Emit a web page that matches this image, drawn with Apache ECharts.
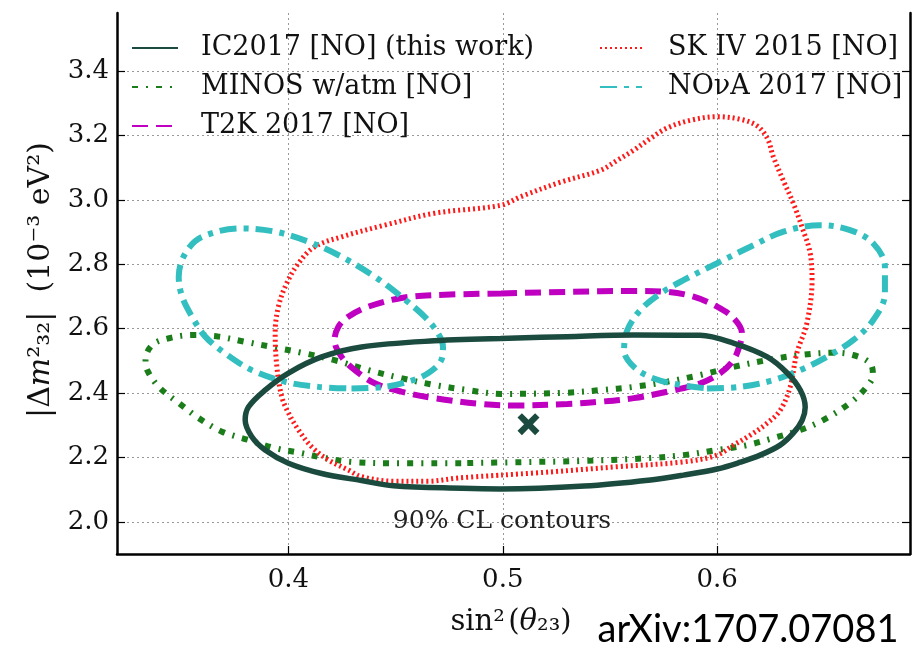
<!DOCTYPE html>
<html>
<head>
<meta charset="utf-8">
<script src="https://cdn.jsdelivr.net/npm/echarts@6/dist/echarts.min.js"></script>
<style>
  html, body { margin: 0; padding: 0; background: #fff; }
  #chart { width: 913px; height: 655px; }
</style>
</head>
<body>
<div id="chart"></div>
<script>
// ---- data (sin^2(theta23), |dm^2_32| in 1e-3 eV^2) ----
const xTicks = [0.4, 0.5, 0.6];
const yTicks = [2.0, 2.2, 2.4, 2.6, 2.8, 3.0, 3.2, 3.4];

const icContour = [
  [0.499,2.569],[0.530,2.575],[0.561,2.580],[0.592,2.579],[0.6076,2.555],[0.6234,2.512],
  [0.6327,2.462],[0.6388,2.409],[0.6411,2.356],[0.6397,2.316],[0.6356,2.276],[0.6294,2.238],
  [0.6201,2.207],[0.6108,2.185],[0.600,2.164],[0.5843,2.145],[0.569,2.130],[0.538,2.111],
  [0.499,2.102],[0.481,2.104],[0.449,2.112],[0.4341,2.128],[0.4155,2.150],[0.400,2.182],
  [0.3891,2.223],[0.3829,2.264],[0.3798,2.316],[0.3814,2.357],[0.3891,2.409],[0.400,2.462],
  [0.4155,2.512],[0.4341,2.543],[0.468,2.562],[0.499,2.569]
];

const minosContour = [
  [0.4806,2.182],[0.4494,2.182],[0.4294,2.186],[0.4169,2.198],[0.4062,2.213],[0.3936,2.229],
  [0.3814,2.254],[0.369,2.280],[0.3581,2.322],[0.3488,2.369],[0.3395,2.419],[0.3341,2.471],
  [0.3333,2.502],[0.3364,2.549],[0.3442,2.570],[0.355,2.580],[0.3674,2.575],[0.3798,2.559],
  [0.3922,2.543],[0.4062,2.525],[0.4215,2.502],[0.4372,2.471],[0.4527,2.446],[0.468,2.425],
  [0.4837,2.409],[0.4992,2.397],[0.5302,2.401],[0.5457,2.409],[0.5611,2.419],[0.5767,2.435],
  [0.5923,2.456],[0.6076,2.481],[0.6233,2.502],[0.6388,2.518],[0.6542,2.525],[0.6634,2.518],
  [0.6713,2.493],[0.6727,2.456],[0.6698,2.419],[0.6620,2.369],[0.6495,2.316],[0.6388,2.285],
  [0.6262,2.260],[0.6140,2.238],[0.600,2.223],[0.5843,2.207],[0.569,2.198],[0.5378,2.189],
  [0.5070,2.185],[0.4806,2.182]
];

const t2kContour = [
  [0.4992,2.709],[0.5302,2.714],[0.5611,2.717],[0.5767,2.714],[0.589,2.699],[0.600,2.668],
  [0.6076,2.633],[0.6116,2.586],[0.6108,2.554],[0.6076,2.502],[0.6015,2.462],[0.5922,2.430],
  [0.5767,2.404],[0.5611,2.384],[0.5457,2.373],[0.5302,2.366],[0.5070,2.361],[0.4900,2.366],
  [0.468,2.384],[0.4527,2.404],[0.4403,2.430],[0.431,2.471],[0.4248,2.512],[0.4215,2.564],
  [0.4233,2.606],[0.4279,2.637],[0.4372,2.668],[0.4527,2.695],[0.468,2.704],[0.4992,2.709]
];

const skContour = [
  [0.4992,2.145],[0.5225,2.155],[0.5535,2.171],[0.5843,2.186],[0.600,2.207],[0.6076,2.238],
  [0.6155,2.269],[0.6233,2.306],[0.6295,2.347],[0.6341,2.419],[0.6372,2.524],[0.6419,2.617],
  [0.6443,2.750],[0.6434,2.835],[0.6401,2.906],[0.6355,2.990],[0.6308,3.061],[0.6262,3.134],
  [0.6235,3.190],[0.6186,3.230],[0.6108,3.250],[0.600,3.258],[0.5876,3.247],[0.5767,3.223],
  [0.569,3.191],[0.5611,3.154],[0.5535,3.123],[0.5457,3.092],[0.5271,3.055],[0.5085,3.010],
  [0.4992,2.983],[0.468,2.958],[0.4448,2.921],[0.4248,2.885],[0.4122,2.854],[0.4047,2.803],
  [0.3992,2.741],[0.3953,2.668],[0.3938,2.586],[0.3946,2.481],[0.3969,2.388],[0.400,2.338],
  [0.4047,2.285],[0.4108,2.233],[0.4186,2.192],[0.4279,2.161],[0.4341,2.140],[0.4494,2.126],
  [0.4651,2.126],[0.4791,2.136],[0.4992,2.145]
];

const novaLeft = [
  [0.4294,2.414],[0.4449,2.419],[0.4558,2.435],[0.4651,2.461],[0.4713,2.502],[0.4721,2.543],
  [0.4698,2.585],[0.4635,2.637],[0.4527,2.699],[0.4403,2.761],[0.4248,2.823],[0.4093,2.870],
  [0.3938,2.901],[0.3783,2.911],[0.3597,2.885],[0.3519,2.834],[0.3488,2.761],[0.3504,2.699],
  [0.355,2.637],[0.3612,2.575],[0.3705,2.523],[0.3829,2.471],[0.3984,2.435],[0.414,2.419],
  [0.4294,2.414]
];

const novaRight = [
  [0.5953,2.414],[0.6108,2.419],[0.6263,2.440],[0.6388,2.471],[0.6512,2.512],[0.6635,2.564],
  [0.6728,2.626],[0.6783,2.709],[0.6783,2.792],[0.6728,2.865],[0.6620,2.906],[0.6481,2.921],
  [0.6310,2.901],[0.6155,2.854],[0.600,2.803],[0.5845,2.751],[0.5736,2.709],[0.5643,2.658],
  [0.5581,2.595],[0.5566,2.533],[0.5612,2.481],[0.5705,2.445],[0.5829,2.425],[0.5953,2.414]
];

const bestFit = [[0.512, 2.303]];

const names = {
  ic: 'IC2017 [NO] (this work)',
  minos: 'MINOS w/atm [NO]',
  t2k: 'T2K 2017 [NO]',
  sk: 'SK IV 2015 [NO]',
  nova: 'NO\u03BDA 2017 [NO]'
};

// ---- chart ----
const SERIF = 'DejaVu Serif';
const chart = echarts.init(document.getElementById('chart'), null, { renderer: 'canvas' });

const legendText = { fontFamily: SERIF, fontSize: 27, color: '#111', lineHeight: 28 };

const option = {
  animation: false,
  backgroundColor: '#ffffff',
  grid: { left: 117, right: 3, top: 13, bottom: 101, containLabel: false },
  legend: [
    {
      orient: 'vertical', left: 126, top: 29, itemWidth: 46, itemHeight: 14, itemGap: 11,
      data: [names.ic, names.minos, names.t2k],
      itemStyle: { opacity: 0 },
      textStyle: Object.assign({ padding: [0, 0, 0, 18] }, legendText)
    },
    {
      orient: 'vertical', left: 594, top: 29, itemWidth: 42, itemHeight: 14, itemGap: 11,
      data: [names.sk, names.nova],
      itemStyle: { opacity: 0 },
      textStyle: Object.assign({ padding: [0, 0, 0, 21] }, legendText)
    }
  ],
  xAxis: {
    type: 'value', min: 0.32, max: 0.69,
    axisLine: { show: true, onZero: false, lineStyle: { color: '#000', width: 2.5 } },
    axisTick: { show: true, inside: true, length: 8, customValues: xTicks, lineStyle: { color: '#000', width: 1.2 } },
    axisLabel: { customValues: xTicks, margin: 13, fontFamily: SERIF, fontSize: 26, color: '#111',
                 formatter: v => v.toFixed(1) },
    splitLine: { show: true, lineStyle: { color: '#999', width: 1, type: [2, 3] } }
  },
  yAxis: [
    {
      type: 'value', min: 1.9, max: 3.58,
      axisLine: { show: true, onZero: false, lineStyle: { color: '#000', width: 2.5 } },
      axisTick: { show: true, inside: true, length: 8, customValues: yTicks, lineStyle: { color: '#000', width: 1.2 } },
      axisLabel: { customValues: yTicks, margin: 8, fontFamily: SERIF, fontSize: 26, color: '#111',
                   formatter: v => v.toFixed(1) },
      splitLine: { show: true, lineStyle: { color: '#999', width: 1, type: [2, 3] } }
    },
    {
      type: 'value', min: 1.9, max: 3.58, position: 'right',
      axisLine: { show: true, onZero: false, lineStyle: { color: '#000', width: 2.5 } },
      axisTick: { show: true, inside: true, length: 8, customValues: yTicks, lineStyle: { color: '#000', width: 1.2 } },
      axisLabel: { show: false },
      splitLine: { show: false }
    }
  ],
  graphic: [
    {
      type: 'text', x: 511, y: 622, z: 100,
      style: {
        text: '{r|sin\u00B2} {r|(}{i|\u03B8}{r|\u2082\u2083)}',
        textAlign: 'center', textVerticalAlign: 'middle',
        rich: {
          r: { fontFamily: SERIF, fontSize: 29, fill: '#111' },
          i: { fontFamily: SERIF, fontSize: 29, fontStyle: 'italic', fill: '#111' }
        }
      }
    },
    {
      type: 'text', x: 41, y: 280, rotation: Math.PI / 2, z: 100,
      style: {
        text: '{r||\u0394}{i|m}{r|\u00B2\u2083\u2082|  (10\u207B\u00B3 eV\u00B2)}',
        textAlign: 'center', textVerticalAlign: 'middle',
        rich: {
          r: { fontFamily: SERIF, fontSize: 30, fill: '#111' },
          i: { fontFamily: SERIF, fontSize: 30, fontStyle: 'italic', fill: '#111' }
        }
      }
    },
    {
      type: 'text', x: 502, y: 521, z: 100,
      style: { text: '90% CL contours', fontFamily: SERIF, fontSize: 25, fill: '#222',
               textAlign: 'center', textVerticalAlign: 'middle' }
    },
    {
      type: 'text', x: 748, y: 630, z: 100,
      style: { text: 'arXiv:1707.07081', fontFamily: 'Lato', fontSize: 38, fill: '#000',
               textAlign: 'center', textVerticalAlign: 'middle' }
    }
  ],
  series: [
    {
      name: names.minos, type: 'line', data: minosContour, smooth: 0.35, symbol: 'none',
      lineStyle: { color: '#1a7d1a', width: 6, type: [6, 8, 2, 8], cap: 'butt' },
      itemStyle: { color: '#1a7d1a' }
    },
    {
      name: names.sk, type: 'line', data: skContour, smooth: 0.35, symbol: 'none',
      lineStyle: { color: '#ff1a1a', width: 5, type: [2, 3], cap: 'butt' },
      itemStyle: { color: '#ff1a1a' }
    },
    {
      name: names.t2k, type: 'line', data: t2kContour, smooth: 0.35, symbol: 'none',
      lineStyle: { color: '#c000c0', width: 6, type: [16, 8], cap: 'butt' },
      itemStyle: { color: '#c000c0' }
    },
    {
      name: names.nova, type: 'line', data: novaLeft, smooth: 0.35, symbol: 'none',
      lineStyle: { color: '#33bfbf', width: 6, type: [17, 7, 5, 7], cap: 'butt' },
      itemStyle: { color: '#33bfbf' }
    },
    {
      name: names.nova, type: 'line', data: novaRight, smooth: 0.35, symbol: 'none',
      lineStyle: { color: '#33bfbf', width: 6, type: [17, 7, 5, 7], cap: 'butt' },
      itemStyle: { color: '#33bfbf' }
    },
    {
      name: names.ic, type: 'line', data: icContour, smooth: 0.35, symbol: 'none',
      lineStyle: { color: '#1b4a3e', width: 5.5, type: 'solid' },
      itemStyle: { color: '#1b4a3e' }
    },
    {
      name: 'best fit', type: 'scatter', data: bestFit, symbolSize: 22,
      symbol: 'path://M2,0 L5,3 L8,0 L10,2 L7,5 L10,8 L8,10 L5,7 L2,10 L0,8 L3,5 L0,2 Z',
      itemStyle: { color: '#1b4a3e', opacity: 1 }
    }
  ]
};
chart.setOption(option);
</script>
</body>
</html>
